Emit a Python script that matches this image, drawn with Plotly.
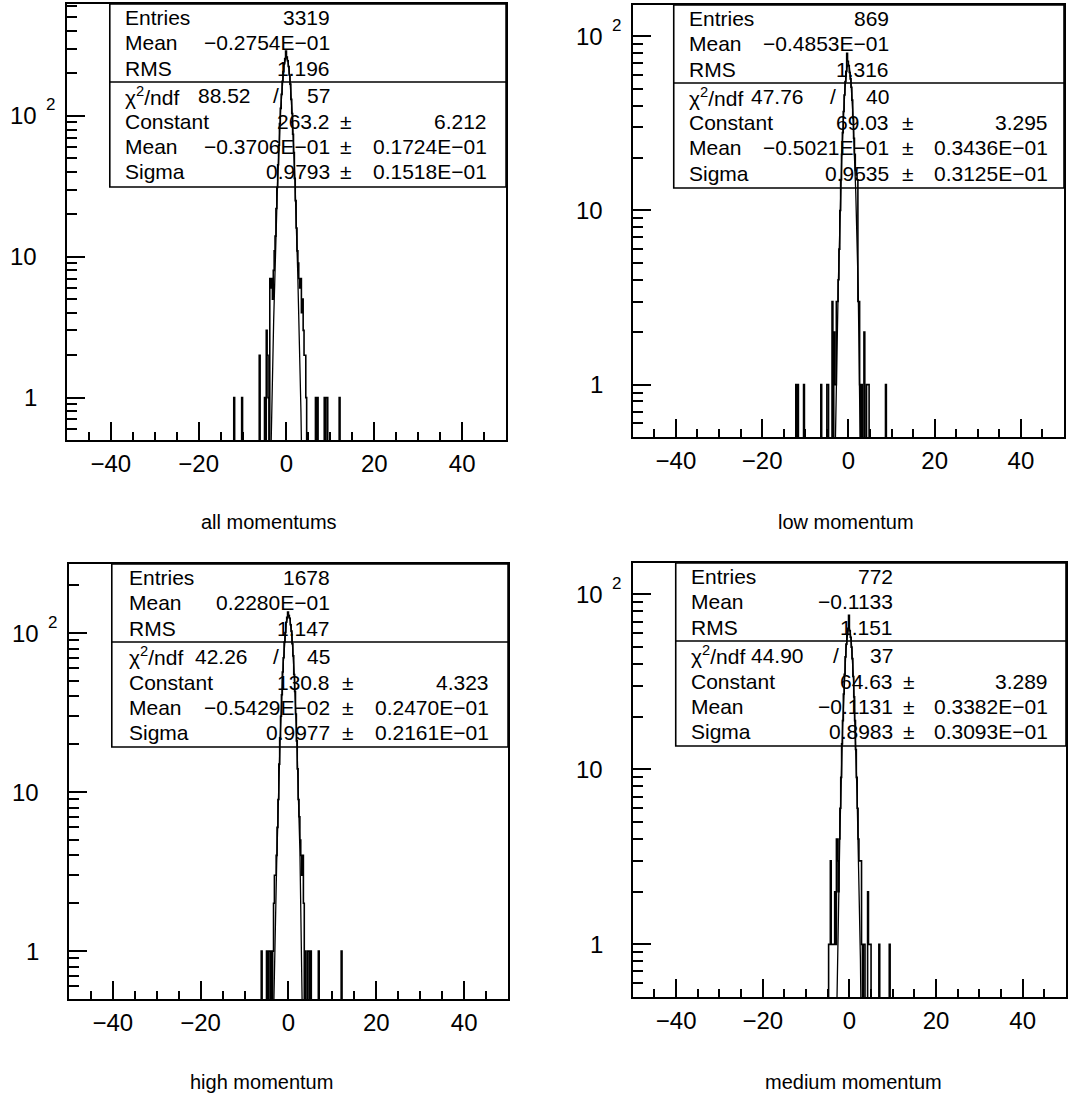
import numpy as np
import plotly.graph_objects as go

W, H = 1068, 1101

# ---------------- data ----------------
titles = ["all momentums", "low momentum", "high momentum", "medium momentum"]

# non-empty bins (bin centres, width 0.2, histogram range -50..50) and counts
all_x = [-11.9, -10.1, -6.1, -4.9, -4.5, -4.3, -4.1, -3.7, -3.5, -3.3, -3.1,
         -2.9, -2.7, -2.5, -2.3, -2.1, -1.9, -1.7, -1.5, -1.3, -1.1, -0.9, -0.7, -0.5, -0.3, -0.1,
         0.1, 0.3, 0.5, 0.7, 0.9, 1.1, 1.3, 1.5, 1.7, 1.9, 2.1, 2.3, 2.5, 2.7, 2.9, 3.1, 3.3, 3.5,
         3.7, 3.9, 4.1, 4.3, 4.5, 6.7, 7.1, 8.7, 9.1, 9.3, 12.1]
all_n = [1, 1, 2, 1, 3, 2, 1, 7, 6, 7, 5,
         8, 11, 14, 22, 31, 45, 62, 88, 113, 142, 176, 206, 235, 255, 288,
         262, 246, 224, 195, 168, 131, 104, 74, 55, 36, 25, 16, 11, 9, 7, 6, 7, 4,
         5, 3, 2, 2, 1, 1, 1, 1, 1, 1, 1]

low_x = [-12.1, -11.7, -10.3, -6.3, -4.9, -4.7, -3.7, -3.3, -3.1,
         -2.9, -2.7, -2.5, -2.3, -2.1, -1.9, -1.7, -1.5, -1.3, -1.1, -0.9, -0.7, -0.5, -0.3, -0.1,
         0.1, 0.3, 0.5, 0.7, 0.9, 1.1, 1.3, 1.5, 1.7, 1.9, 2.1, 2.3, 2.5, 2.7,
         3.1, 3.7, 4.3, 4.5, 4.7, 8.7]
low_n = [1, 1, 1, 1, 1, 1, 3, 2, 1,
         1, 3, 3, 4, 6, 10, 15, 21, 28, 37, 46, 55, 63, 80, 72,
         68, 62, 57, 51, 43, 34, 26, 21, 17, 16, 15, 3, 3, 1,
         1, 2, 1, 1, 1, 1]

high_x = [-6.1, -4.9, -4.5, -4.3, -3.9, -3.5,
          -3.3, -3.1, -2.9, -2.7, -2.5, -2.3, -2.1, -1.9, -1.7, -1.5, -1.3, -1.1, -0.9, -0.7,
          -0.5, -0.3, -0.1, 0.1, 0.3, 0.5, 0.7, 0.9, 1.1, 1.3, 1.5, 1.7, 1.9, 2.1, 2.3, 2.5,
          2.7, 2.9, 3.1, 3.3, 3.5, 3.9, 4.5, 4.7, 5.1, 6.9, 12.1]
high_n = [1, 1, 1, 1, 1, 1,
          2, 3, 3, 4, 6, 9, 15, 22, 30, 41, 57, 70, 88, 101,
          117, 126, 136, 129, 124, 113, 103, 86, 72, 55, 43, 31, 21, 14, 9, 7,
          5, 4, 3, 4, 2, 1, 1, 1, 1, 1, 1]

med_x = [-4.7, -4.5, -4.3, -4.1, -3.9, -3.7, -3.5, -3.3, -3.1, -2.9, -2.7, -2.5, -2.3,
         -2.1, -1.9, -1.7, -1.5, -1.3, -1.1, -0.9, -0.7, -0.5, -0.3, -0.1, 0.1, 0.3,
         0.5, 0.7, 0.9, 1.1, 1.3, 1.5, 1.7, 1.9, 2.1, 2.3, 2.5, 2.7, 2.9,
         3.3, 3.5, 4.3, 4.5, 4.7, 4.9, 6.9, 9.3]
med_n = [1, 1, 3, 1, 1, 1, 1, 2, 1, 4, 3, 2, 4,
         6, 9, 14, 19, 27, 35, 44, 52, 59, 64, 76, 62, 57,
         50, 43, 34, 26, 19, 13, 9, 6, 4, 3, 3, 3, 1,
         1, 1, 2, 1, 1, 1, 1, 1]

# gaussian fit parameters (from the statistics boxes)
fit_const = [263.2, 69.03, 130.8, 64.63]
fit_mean = [-0.03706, -0.05021, -0.005429, -0.1131]
fit_sigma = [0.9793, 0.9535, 0.9977, 0.8983]

# statistics box texts
st_entries = ["3319", "869", "1678", "772"]
st_mean = ["−0.2754E−01", "−0.4853E−01", "0.2280E−01", "−0.1133"]
st_rms = ["1.196", "1.316", "1.147", "1.151"]
st_chi = ["88.52", "47.76", "42.26", "44.90"]
st_ndf = ["57", "40", "45", "37"]
st_const = ["263.2", "69.03", "130.8", "64.63"]
st_const_err = ["6.212", "3.295", "4.323", "3.289"]
st_fmean = ["−0.3706E−01", "−0.5021E−01", "−0.5429E−02", "−0.1131"]
st_fmean_err = ["0.1724E−01", "0.3436E−01", "0.2470E−01", "0.3382E−01"]
st_sigma = ["0.9793", "0.9535", "0.9977", "0.8983"]
st_sigma_err = ["0.1518E−01", "0.3125E−01", "0.2161E−01", "0.3093E−01"]

x_ticks = [-40, -20, 0, 20, 40]
x_tick_text = ["−40", "−20", "0", "20", "40"]

hist_x = [all_x, low_x, high_x, med_x]
hist_n = [all_n, low_n, high_n, med_n]

# ---------------- layout (pixel geometry) ----------------
frames = [  # left, right, top, bottom (pixels)
    (67, 507, 4, 440),
    (634, 1066, 5, 437),
    (69, 509, 564, 999),
    (634, 1068, 563, 997),
]
y_top_log = [2.794, 2.18, 2.435, 2.18]
box_geo = [  # box_left, label_x, chi_val_right, slash_x, v1_right, pm_x, v2_right
    (110, 123, 253, 277, 333, 347, 490),
    (675, 688, 808, 835, 893, 910, 1052),
    (112, 127, 250, 277, 333, 349, 492),
    (677, 690, 808, 838, 897, 911, 1052),
]
title_pos = [(270, 522), (848, 522), (262, 1082), (855, 1082)]

FONT = "Liberation Sans, Arial, sans-serif"

def px(x):
    return x / W

def py(y):
    return 1 - y / H

fig = go.Figure()
annotations = []
shapes = []

nbins = 500
edges = np.linspace(-50, 50, nbins + 1)
y_minor = [0.6, 0.7, 0.8, 0.9] + [k for k in range(2, 10)] + [10 * k for k in range(2, 10)] + [100 * k for k in range(2, 10)]

for i in range(4):
    sfx = "" if i == 0 else str(i + 1)
    L, R, T, B = frames[i]

    counts = np.zeros(nbins)
    for c, n in zip(hist_x[i], hist_n[i]):
        idx = int(round((c + 50) / 0.2 - 0.5))
        counts[idx] = n
    plot_counts = np.where(counts > 0, counts, 1e-3)
    xs = list(edges[:-1]) + [edges[-1]]
    ys = list(plot_counts) + [plot_counts[-1]]
    fig.add_trace(go.Scatter(x=xs, y=ys, mode="lines", line=dict(shape="hv", color="black", width=1.6),
                             xaxis="x" + sfx, yaxis="y" + sfx, showlegend=False, hoverinfo="skip"))

    fx = np.linspace(fit_mean[i] - 6 * fit_sigma[i], fit_mean[i] + 6 * fit_sigma[i], 801)
    fy = fit_const[i] * np.exp(-0.5 * ((fx - fit_mean[i]) / fit_sigma[i]) ** 2)
    fig.add_trace(go.Scatter(x=fx, y=fy, mode="lines", line=dict(color="black", width=1.3),
                             xaxis="x" + sfx, yaxis="y" + sfx, showlegend=False, hoverinfo="skip"))

    fig.layout["xaxis" + sfx] = dict(
        domain=[px(L), px(R)], range=[-50, 50], anchor="y" + sfx,
        showline=True, mirror=True, linecolor="black", linewidth=2,
        ticks="inside", ticklen=18, tickwidth=1.5, tickcolor="black",
        tickvals=x_ticks, ticktext=x_tick_text,
        tickfont=dict(family=FONT, size=24, color="black"), ticklabelstandoff=1,
        minor=dict(dtick=5, tick0=0, ticks="inside", ticklen=8, tickwidth=1.5, tickcolor="black", showgrid=False),
        showgrid=False, zeroline=False, fixedrange=True,
    )
    fig.layout["yaxis" + sfx] = dict(
        type="log", domain=[py(B), py(T)], range=[-0.301, y_top_log[i]], anchor="x" + sfx,
        showline=True, mirror=True, linecolor="black", linewidth=2,
        ticks="inside", ticklen=18, tickwidth=1.5, tickcolor="black",
        tickvals=[1, 10, 100], showticklabels=False,
        minor=dict(tickmode="array", tickvals=y_minor, ticks="inside", ticklen=10, tickwidth=1.5,
                   tickcolor="black", showgrid=False),
        showgrid=False, zeroline=False, fixedrange=True,
    )

    # y tick labels
    lab_right = L - 28
    for val, txt in [(1, "1"), (10, "10"), (100, "10")]:
        if np.log10(val) <= y_top_log[i]:
            annotations.append(dict(x=px(lab_right), xref="paper", y=np.log10(val), yref="y" + sfx,
                                    text=txt, showarrow=False, xanchor="right", yanchor="middle",
                                    font=dict(family=FONT, size=24, color="black")))
            if val == 100:
                annotations.append(dict(x=px(lab_right + 5), xref="paper", y=np.log10(val), yref="y" + sfx,
                                        yshift=11, text="2", showarrow=False, xanchor="left", yanchor="middle",
                                        font=dict(family=FONT, size=17, color="black")))

    # statistics box
    bl, lx, chr_, slx, v1r, pmx, v2r = box_geo[i]
    shapes.append(dict(type="rect", xref="paper", yref="paper", x0=px(bl), x1=px(R), y0=py(T + 183), y1=py(T),
                       line=dict(color="black", width=1.6)))
    shapes.append(dict(type="line", xref="paper", yref="paper", x0=px(bl), x1=px(R), y0=py(T + 78), y1=py(T + 78),
                       line=dict(color="black", width=1.6)))
    rows = [13, 38, 64, 92, 118, 143, 168]
    f = dict(family=FONT, size=21, color="black")

    def add(x, yrow, txt, anchor):
        annotations.append(dict(x=px(x), y=py(T + yrow), xref="paper", yref="paper", text=txt,
                                showarrow=False, xanchor=anchor, yanchor="middle", font=f))

    labels = ["Entries", "Mean", "RMS", "χ<sup>2</sup>/ndf", "Constant", "Mean", "Sigma"]
    for r, lab in zip(rows, labels):
        add(lx, r, lab, "left")
    add(v1r, rows[0], st_entries[i], "right")
    add(v1r, rows[1], st_mean[i], "right")
    add(v1r, rows[2], st_rms[i], "right")
    add(chr_, rows[3], st_chi[i], "right")
    add(slx, rows[3], "/", "center")
    add(v1r, rows[3], st_ndf[i], "right")
    add(v1r, rows[4], st_const[i], "right")
    add(v1r, rows[5], st_fmean[i], "right")
    add(v1r, rows[6], st_sigma[i], "right")
    for r in rows[4:]:
        add(pmx, r, "±", "center")
    add(v2r, rows[4], st_const_err[i], "right")
    add(v2r, rows[5], st_fmean_err[i], "right")
    add(v2r, rows[6], st_sigma_err[i], "right")

    tx, ty = title_pos[i]
    annotations.append(dict(x=px(tx), y=py(ty), xref="paper", yref="paper", text=titles[i], showarrow=False,
                            xanchor="center", yanchor="middle", font=dict(family=FONT, size=20, color="black")))

fig.update_layout(width=W, height=H, margin=dict(l=0, r=0, t=0, b=0), paper_bgcolor="white",
                  plot_bgcolor="white", annotations=annotations, shapes=shapes, showlegend=False)

fig.write_html("out.html", config={"displayModeBar": False},
               post_script="document.body.style.margin='0px';document.body.style.overflow='hidden';")
